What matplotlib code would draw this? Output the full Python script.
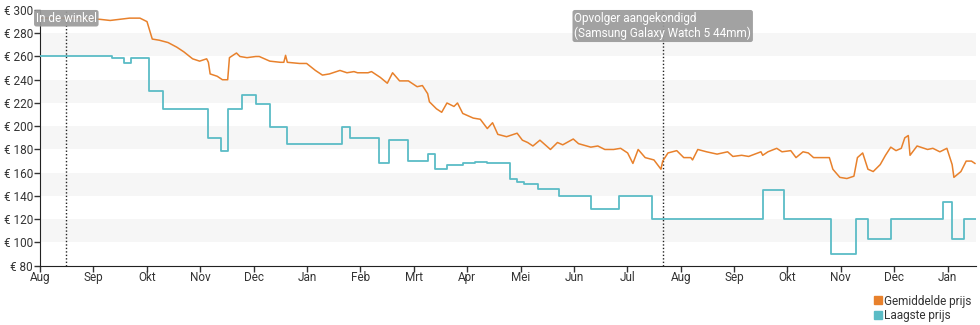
import numpy as np
import matplotlib
matplotlib.use("Agg")
import matplotlib.pyplot as plt
from matplotlib.lines import Line2D

plt.rcParams['font.family'] = ['Roboto', 'DejaVu Sans']

# days since 1 Aug 2021
avg_days = [0, 17, 34, 40, 51, 57, 61, 63, 64, 68,
            73, 78, 82, 87, 91, 95, 96, 97, 101, 104,
            107, 108, 110, 112, 114, 118, 123, 125, 131, 137,
            139, 140, 141, 148, 152, 157, 161, 165, 171, 175,
            179, 181, 187, 189, 194, 198, 201, 205, 210, 215,
            218, 221, 222, 226, 229, 232, 236, 238, 241, 247,
            251, 255, 258, 261, 266, 272, 275, 278, 281, 285,
            291, 295, 298, 304, 307, 314, 318, 322, 327, 331,
            335, 338, 341, 345, 350, 354, 355, 358, 363, 367,
            371, 372, 375, 380, 386, 392, 395, 400, 404, 411,
            412, 415, 420, 423, 428, 431, 435, 438, 441, 447,
            450, 452, 456, 460, 464, 466, 469, 472, 475, 479,
            482, 485, 488, 491, 493, 495, 496, 500, 506, 509,
            513, 517, 520, 521, 525, 528, 531, 533]
avg_price = [293, 293, 292, 291, 293, 293, 290, 280, 275, 274,
             272, 268, 264, 258, 256, 258, 255, 245, 243, 240,
             240, 259, 261, 263, 260, 259, 260, 260, 256, 255,
             255, 261, 255, 254, 254, 248, 244, 245, 248, 246,
             247, 246, 246, 247, 242, 237, 246, 239, 239, 234,
             235, 228, 221, 215, 212, 220, 217, 220, 211, 207,
             206, 198, 203, 193, 191, 194, 188, 186, 183, 188,
             180, 186, 184, 189, 185, 182, 183, 180, 180, 181,
             177, 168, 180, 173, 171, 163, 170, 177, 179, 173,
             173, 171, 180, 178, 176, 178, 174, 175, 174, 178,
             175, 178, 181, 178, 179, 173, 178, 177, 173, 173,
             173, 163, 156, 155, 157, 173, 177, 163, 161, 167,
             175, 182, 179, 181, 190, 192, 175, 183, 180, 181,
             178, 181, 167, 156, 161, 170, 170, 168]

low_days = [0, 41, 48, 52, 62, 70, 96, 103, 107, 115,
            123, 131, 141, 172, 177, 193, 199, 210, 221, 225,
            232, 241, 248, 255, 268, 272, 276, 284, 296, 314,
            330, 349, 412, 424, 451, 465, 472, 485, 515, 520,
            527, 534]
low_price = [260, 259, 254, 259, 230, 215, 190, 179, 215, 227,
             219, 199, 185, 199, 190, 168, 188, 170, 176, 163,
             167, 168, 169, 168, 155, 152, 150, 146, 140, 129,
             140, 120, 145, 120, 90, 120, 103, 120, 135, 103,
             120, 120]

months = ['Aug', 'Sep', 'Okt', 'Nov', 'Dec', 'Jan', 'Feb', 'Mrt', 'Apr',
          'Mei', 'Jun', 'Jul', 'Aug', 'Sep', 'Okt', 'Nov', 'Dec', 'Jan']

events = [(15, 'In de winkel'),
          (355, 'Opvolger aangekondigd\n(Samsung Galaxy Watch 5 44mm)')]

ORANGE = '#e8812c'
TEAL = '#5bbcc6'

fig = plt.figure(figsize=(9.8, 3.25), dpi=100)
ax = fig.add_axes([40 / 980, 1 - 265.7 / 325, 936 / 980, 255.7 / 325])

for lo in range(100, 300, 40):
    ax.axhspan(lo, lo + 20, color='#f6f6f6', lw=0, zorder=0)

ax.plot(avg_days, avg_price, color=ORANGE, lw=1.1, zorder=3)
ax.plot(low_days, low_price, color=TEAL, lw=1.3, drawstyle='steps-post', zorder=3)

for day, label in events:
    ax.axvline(day, color='#222222', lw=1, ls=(0, (1, 1.5)), zorder=2)
    ax.text(day, 298.5, label, ha='center', va='top', multialignment='left',
            color='white', fontsize=8.5, zorder=5, clip_on=False,
            bbox=dict(boxstyle='round,pad=0.15,rounding_size=0.2',
                      fc='#9a9a9a', ec='none', alpha=0.92))

ax.set_xlim(0, 533.6)
ax.set_ylim(80, 300)
ax.set_xticks(np.arange(len(months)) * 365.25 / 12)
ax.set_xticklabels(months)
ax.set_yticks(range(80, 301, 20))
ax.set_yticklabels([f'€ {v}' for v in range(80, 301, 20)])
ax.tick_params(labelsize=8.5, colors='#333333', length=4, width=1, pad=1)
ax.tick_params(axis='x', pad=0)
for side in ['top', 'right']:
    ax.spines[side].set_visible(False)
for side in ['left', 'bottom']:
    ax.spines[side].set_color('#222222')

handles = [Line2D([], [], marker='s', ls='none', color=ORANGE, markersize=6),
           Line2D([], [], marker='s', ls='none', color=TEAL, markersize=6)]
fig.legend(handles, ['Gemiddelde prijs', 'Laagste prijs'],
           loc='upper right', bbox_to_anchor=(0.997, 0.112), frameon=False,
           fontsize=8.5, handlelength=0.6, handletextpad=0.2, labelspacing=0.15,
           borderpad=0, labelcolor='#333333')

fig.savefig('out.png', dpi=100)
